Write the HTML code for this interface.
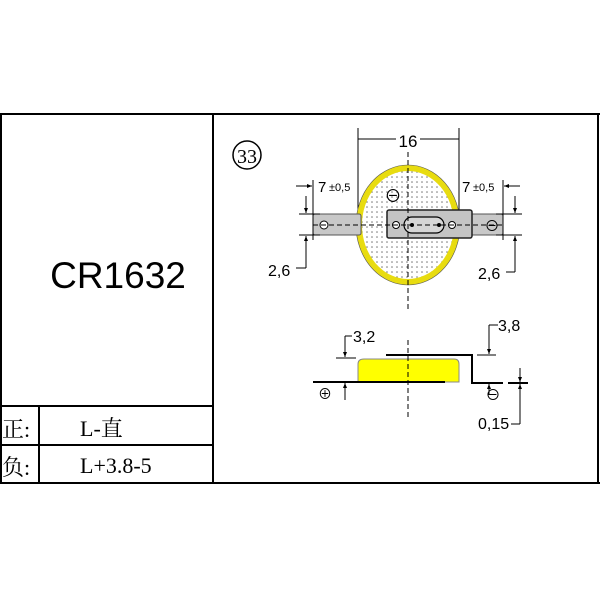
<!DOCTYPE html>
<html><head><meta charset="utf-8"><style>
html,body{margin:0;padding:0;background:#fff;}
svg{display:block;}
text{font-family:"Liberation Sans","Noto Sans CJK SC",sans-serif;fill:#000;}
.s{font-family:"Liberation Serif","Noto Serif CJK SC",serif;}
</style></head><body>
<svg width="600" height="600" viewBox="0 0 600 600" xmlns="http://www.w3.org/2000/svg">
<defs>
<pattern id="dots" width="5" height="5" patternUnits="userSpaceOnUse"><rect width="5" height="5" fill="#fff"/><circle cx="2" cy="2" r="0.8" fill="#777"/></pattern>
<marker id="ar" markerWidth="6" markerHeight="6" refX="5" refY="3" orient="auto"><path d="M0,1 L5,3 L0,5 z" fill="#000"/></marker>
</defs>
<g stroke="#000" stroke-width="2" fill="none">
<line x1="0" y1="114" x2="600" y2="114"/>
<line x1="0" y1="483" x2="600" y2="483"/>
<line x1="1" y1="114" x2="1" y2="483"/>
<line x1="598" y1="114" x2="598" y2="483"/>
<line x1="213" y1="114" x2="213" y2="483"/>
<line x1="0" y1="406" x2="213" y2="406"/>
<line x1="0" y1="445" x2="213" y2="445"/>
<line x1="39" y1="406" x2="39" y2="483"/>
</g>
<text x="118" y="288" font-size="37" text-anchor="middle">CR1632</text>
<text x="2" y="437" font-size="22" class="s">正:</text>
<text x="2" y="475" font-size="22" class="s">负:</text>
<text x="80" y="436" font-size="22" class="s">L-直</text>
<text x="80" y="473" font-size="22" class="s">L+3.8-5</text>
<circle cx="247" cy="155" r="14" fill="none" stroke="#000" stroke-width="1.5"/>
<text x="247" y="163" font-size="20" text-anchor="middle" class="s">33</text>
<g stroke="#000" stroke-width="1" fill="none">
<line x1="358" y1="128" x2="358" y2="222"/>
<line x1="459" y1="128" x2="459" y2="222"/>
<line x1="358" y1="139" x2="396" y2="139"/><line x1="420" y1="139" x2="459" y2="139"/>
</g>
<text x="408" y="147" font-size="17" text-anchor="middle">16</text>
<ellipse cx="408" cy="225" rx="49" ry="57" fill="url(#dots)" stroke="#e8dc10" stroke-width="6"/>
<ellipse cx="408" cy="225" rx="52" ry="60" fill="none" stroke="#555" stroke-width="0.6"/>
<rect x="313" y="214" width="48" height="21" fill="#c8c8c8" stroke="#555" stroke-width="1" rx="2"/>
<rect x="468" y="214" width="35" height="21" fill="#c8c8c8" stroke="#555" stroke-width="1" rx="2"/>
<rect x="387" y="210" width="85" height="28" fill="#c4c4c4" stroke="#222" stroke-width="1.5" rx="2"/>
<rect x="404" y="217" width="40" height="16" rx="8" fill="#d6d6d6" stroke="#000" stroke-width="1.2"/>
<circle cx="324" cy="225" r="4" fill="#fff" stroke="#000"/>
<circle cx="396" cy="225" r="3.5" fill="#fff" stroke="#000"/>
<circle cx="452" cy="225" r="3.5" fill="#fff" stroke="#000"/>
<text x="492" y="231" font-size="15" text-anchor="middle">⊖</text>
<text x="393" y="202" font-size="17" text-anchor="middle">⊖</text>
<g stroke="#000" stroke-width="1" stroke-dasharray="5,3" fill="none">
<line x1="408" y1="152" x2="408" y2="310"/>
<line x1="313" y1="225" x2="503" y2="225"/>
</g>
<circle cx="412" cy="225" r="2" fill="#000"/><circle cx="439" cy="225" r="2" fill="#000"/>
<g stroke="#000" stroke-width="1" fill="none">
<line x1="313" y1="180" x2="313" y2="240"/>
<line x1="503" y1="180" x2="503" y2="240"/>
<line x1="296" y1="186" x2="312" y2="186" marker-end="url(#ar)"/>
<line x1="520" y1="186" x2="504" y2="186" marker-end="url(#ar)"/>
<line x1="299" y1="214" x2="320" y2="214"/><line x1="299" y1="235" x2="320" y2="235"/>
<line x1="306" y1="196" x2="306" y2="213" marker-end="url(#ar)"/>
<line x1="306" y1="268" x2="306" y2="236" marker-end="url(#ar)"/>
<line x1="306" y1="268" x2="296" y2="268"/>
<line x1="496" y1="214" x2="522" y2="214"/><line x1="496" y1="235" x2="522" y2="235"/>
<line x1="515" y1="196" x2="515" y2="213" marker-end="url(#ar)"/>
<line x1="515" y1="272" x2="515" y2="236" marker-end="url(#ar)"/>
<line x1="515" y1="272" x2="506" y2="272"/>
</g>
<text x="318" y="192" font-size="15">7</text><text x="329" y="191" font-size="11">±0,5</text>
<text x="462" y="192" font-size="15">7</text><text x="473" y="191" font-size="11">±0,5</text>
<text x="268" y="276" font-size="16">2,6</text>
<text x="478" y="279" font-size="16">2,6</text>
<path d="M358,382 L358,364 Q358,359 364,359 L454,359 Q459,359 459,364 L459,382 Z" fill="#ffff00" stroke="#888" stroke-width="1"/>
<g stroke="#000" stroke-width="2" fill="none">
<polyline points="386,355 472,355 472,383 503,383"/>
<line x1="313" y1="382" x2="445" y2="382"/>
<line x1="508" y1="383" x2="528" y2="383"/>
</g>
<line x1="408" y1="340" x2="408" y2="420" stroke="#000" stroke-dasharray="5,3"/>
<g stroke="#000" stroke-width="1" fill="none">
<line x1="336" y1="358" x2="356" y2="358"/>
<line x1="345" y1="336" x2="345" y2="357" marker-end="url(#ar)"/>
<line x1="345" y1="400" x2="345" y2="383" marker-end="url(#ar)"/>
<line x1="345" y1="336" x2="352" y2="336"/>
<line x1="477" y1="355" x2="496" y2="355"/>
<line x1="489" y1="325" x2="489" y2="354" marker-end="url(#ar)"/>
<line x1="489" y1="395" x2="489" y2="384" marker-end="url(#ar)"/>
<line x1="489" y1="325" x2="498" y2="325"/>
<line x1="520" y1="368" x2="520" y2="382" marker-end="url(#ar)"/>
<line x1="520" y1="424" x2="520" y2="384" marker-end="url(#ar)"/>
<line x1="520" y1="424" x2="511" y2="424"/>
</g>
<text x="353" y="342" font-size="16">3,2</text>
<text x="498" y="331" font-size="16">3,8</text>
<text x="478" y="429" font-size="16">0,15</text>
<text x="325" y="399" font-size="14" text-anchor="middle">⊕</text>
<text x="493" y="400" font-size="15" text-anchor="middle">⊖</text>
</svg>
</body></html>
